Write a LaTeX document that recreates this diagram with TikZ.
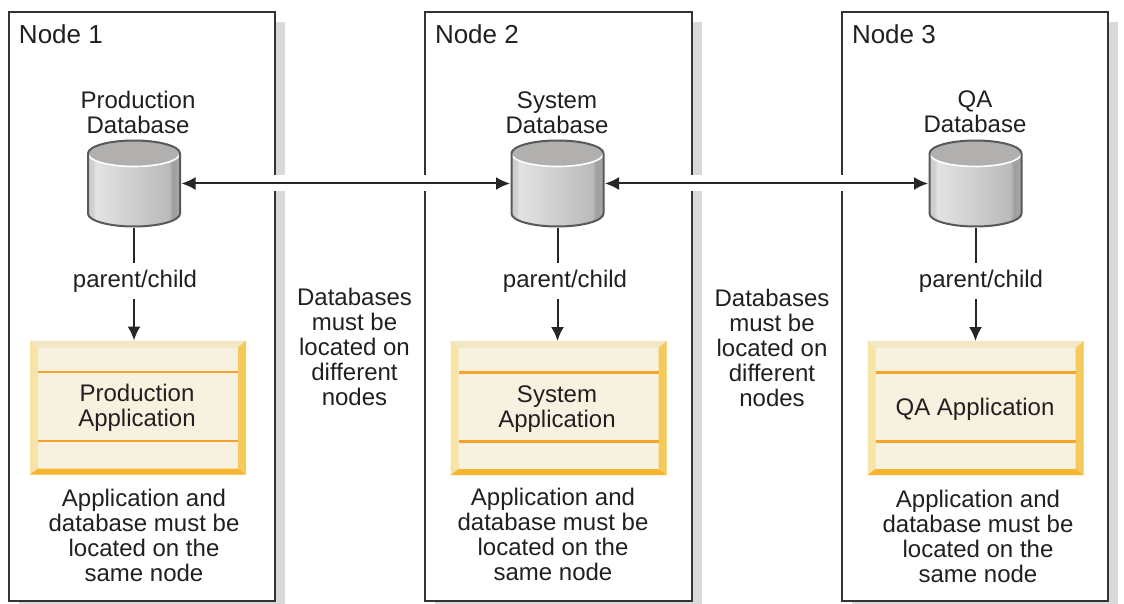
\documentclass[tikz,border=0pt]{standalone}
\usepackage{fontspec}
\setmainfont{Liberation Sans}
\usetikzlibrary{arrows.meta}

\definecolor{inkc}{HTML}{231F20}
\definecolor{framec}{HTML}{333333}
\definecolor{shadowc}{HTML}{D9D9D9}
\definecolor{dbedge}{HTML}{58595B}
\definecolor{dbtop}{HTML}{B1B0AE}
\definecolor{appface}{HTML}{F7F2E0}
\definecolor{appn}{HTML}{F3E8C6}
\definecolor{appw}{HTML}{F8E3A8}
\definecolor{appe}{HTML}{F5C95A}
\definecolor{apps}{HTML}{F5B52E}
\definecolor{appline}{HTML}{F5A32A}

\pgfdeclarehorizontalshading{dbshade}{100bp}{
  rgb(0bp)=(0.80,0.80,0.80);
  rgb(25bp)=(0.80,0.80,0.80);
  rgb(28bp)=(0.82,0.82,0.82);
  rgb(29bp)=(0.89,0.89,0.89);
  rgb(69bp)=(0.73,0.73,0.73);
  rgb(71bp)=(0.62,0.62,0.62);
  rgb(75bp)=(0.66,0.66,0.66);
  rgb(100bp)=(0.66,0.66,0.66)}

\tikzset{
  txt/.style={text=inkc,inner sep=0pt,outer sep=0pt,align=center,
    font=\fontsize{24}{25}\selectfont},
  titletxt/.style={txt,anchor=west,font=\fontsize{26}{26}\selectfont},
  nodebox/.style={draw=framec,line width=2pt,fill=white,minimum width=266,
    minimum height=589,inner sep=0pt,outer sep=0pt},
  dbase/.style={minimum width=94,minimum height=88,inner sep=0pt,outer sep=0.5pt,
    path picture={
      \begin{scope}[shift={(path picture bounding box.center)}]
        \shade[shading=dbshade] (-46,-30) -- (-46,30)
          arc[start angle=180,end angle=0,x radius=46,y radius=13] -- (46,-30)
          arc[start angle=0,end angle=-180,x radius=46,y radius=13] -- cycle;
        \fill[dbtop] (0,-30) ellipse [x radius=46,y radius=13];
        \draw[white,line width=1.6pt] (-46,-30)
          arc[start angle=180,end angle=0,x radius=46,y radius=13];
        \draw[dbedge,line width=2pt] (-46,-30) -- (-46,30)
          arc[start angle=180,end angle=0,x radius=46,y radius=13] -- (46,-30)
          arc[start angle=0,end angle=-180,x radius=46,y radius=13] -- cycle;
      \end{scope}
    }},
  appbox/.style={fill=appface,minimum width=216,minimum height=134,inner sep=0pt,outer sep=0pt,
    path picture={
      \begin{scope}[shift={(path picture bounding box.center)}]
        \fill[appn] (-108,-67) -- (108,-67) -- (100,-60) -- (-100,-60) -- cycle;
        \fill[appw] (-108,-67) -- (-100,-60) -- (-100,61) -- (-108,67) -- cycle;
        \fill[appe] (108,-67) -- (100,-60) -- (100,61) -- (108,67) -- cycle;
        \fill[apps] (-108,67) -- (-100,61) -- (100,61) -- (108,67) -- cycle;
        \draw[appline,line width=2.6pt] (-100,-35.5) -- (100,-35.5);
        \draw[appline,line width=2.6pt] (-100,33.5) -- (100,33.5);
      \end{scope}
    }},
  gapline/.style={white,line width=16pt},
  link/.style={draw=black!85,line width=2pt,-{Latex[length=14pt,width=13pt]}},
  twolink/.style={draw=black!85,line width=2pt,{Latex[length=14pt,width=13pt]}-{Latex[length=14pt,width=13pt]}},
  pclabel/.style={txt,fill=white,minimum height=36},
}

\begin{document}
\begin{tikzpicture}[x=1pt,y=-1pt]
\useasboundingbox (0,0) rectangle (1124,604);

% shadows behind the three frames
\fill[shadowc] (19,22) rectangle (285,604);
\fill[shadowc] (435,22) rectangle (702,604);
\fill[shadowc] (852,22) rectangle (1118,604);

\node[nodebox] (node1) at (142,306.5) {};
\node[nodebox,minimum width=267] (node2) at (558.5,306.5) {};
\node[nodebox] (node3) at (975,306.5) {};

\node[titletxt] (title1) at (19,34) {Node 1};
\node[titletxt] (title2) at (435,34) {Node 2};
\node[titletxt] (title3) at (852,34) {Node 3};

% databases
\node[txt] (prodname) at (138,112.5) {Production\\Database};
\node[txt] (sysname) at (557,112.5) {System\\Database};
\node[txt] (qaname) at (975,111.5) {QA\\Database};

\node[dbase] (proddb) at (134,183.5) {};
\node[dbase] (sysdb) at (557.5,183.5) {};
\node[dbase] (qadb) at (975.5,183.5) {};

% applications
\node[appbox] (prodapp) at (138,407.5) {};
\node[appbox] (sysapp) at (558.5,408) {};
\node[appbox] (qaapp) at (975.5,408) {};

\node[txt] (prodtext) at (137,408) {Production\\Application};
\node[txt] (systext) at (557,409) {System\\Application};
\node[txt] (qatext) at (975,409) {QA Application};

% white gap across the frames, then the arrows
\draw[gapline] (proddb.east) -- (sysdb.west);
\draw[gapline] (sysdb.east) -- (qadb.west);
\draw[twolink] (proddb.east) -- (sysdb.west);
\draw[twolink] (sysdb.east) -- (qadb.west);

\draw[link] (proddb.south) -- node[pclabel,pos=0.47,xshift=1] (pc1) {parent/child} (proddb.south |- prodapp.north);
\draw[link] (sysdb.south) -- node[pclabel,pos=0.47,xshift=7.5] (pc2) {parent/child} (sysdb.south |- sysapp.north);
\draw[link] (qadb.south) -- node[pclabel,pos=0.47,xshift=5.5] (pc3) {parent/child} (qadb.south |- qaapp.north);

% notes
\node[txt] (diff1) at (354.5,347) {Databases\\must be\\located on\\different\\nodes};
\node[txt] (diff2) at (772,348) {Databases\\must be\\located on\\different\\nodes};

\node[txt] (same1) at (144,535.5) {Application and\\database must be\\located on the\\same node};
\node[txt] (same2) at (553,534.5) {Application and\\database must be\\located on the\\same node};
\node[txt] (same3) at (978,536) {Application and\\database must be\\located on the\\same node};
\end{tikzpicture}
\end{document}
